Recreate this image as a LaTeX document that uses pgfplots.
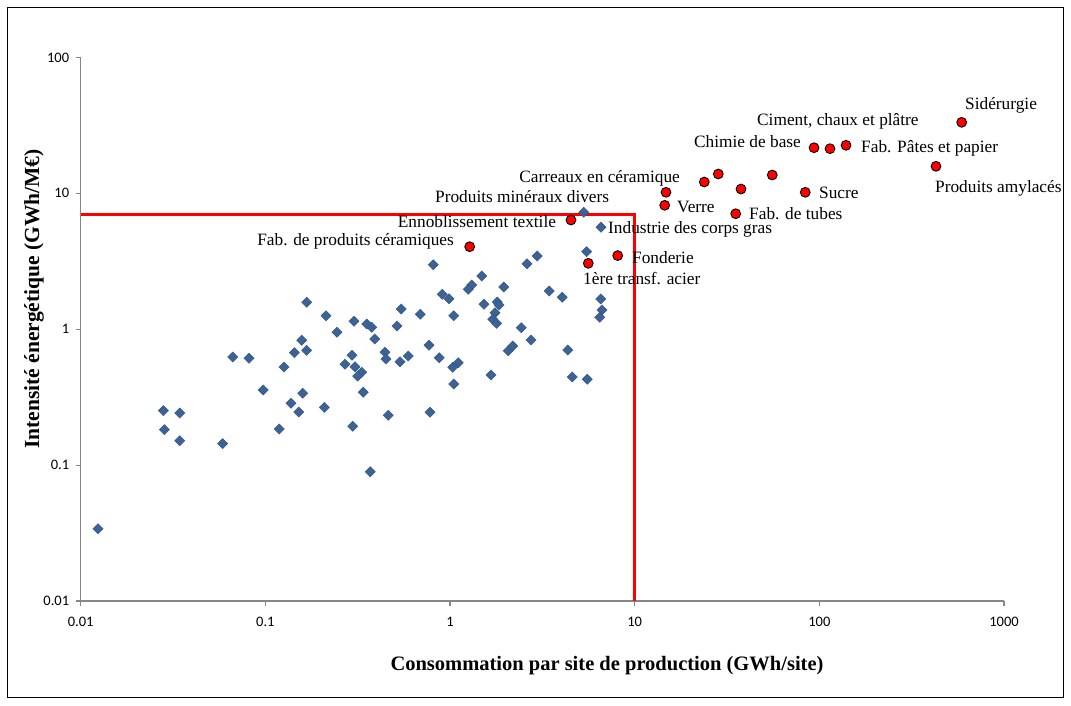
\documentclass[border=0pt]{standalone}
\usepackage{fontspec}
\setmainfont{Liberation Serif}
\newfontfamily\carlito{Carlito}
\usepackage{pgfplots}
\pgfplotsset{compat=1.18}
\definecolor{axisgray}{RGB}{134,134,134}
\definecolor{bluept}{RGB}{60,98,150}
\definecolor{blueedge}{RGB}{50,85,130}
\begin{document}
\begin{tikzpicture}
\fill[white] (0,0) rectangle (1071pt,705pt);
\draw[black, line width=1.3pt] (7.3pt,7.3pt) rectangle (1063.7pt,697.7pt);
\begin{axis}[
  at={(80.7pt,104pt)}, anchor=south west,
  scale only axis, width=923.3pt, height=543.6pt,
  xmode=log, ymode=log,
  xmin=0.01, xmax=1000, ymin=0.01, ymax=100,
  axis x line*=bottom, axis y line*=left,
  axis line style={draw=axisgray, line width=1.5pt, -},
  tick style={draw=axisgray, line width=1.2pt},
  major tick length=5pt,
  tick align=outside,
  minor tick style={draw=none},
  xtick={0.01,0.1,1,10,100,1000},
  xticklabels={0.01,0.1,1,10,100,1000},
  ytick={0.01,0.1,1,10,100},
  yticklabels={0.01,0.1,1,10,100},
  ticklabel style={font=\carlito\fontsize{14.5}{16}\selectfont, text=black},
  xticklabel style={yshift=-8pt},
  yticklabel style={xshift=-3pt},
  clip=false,
]
\addplot[red, line width=3pt, mark=none] coordinates {(0.01,7) (10,7) (10,0.01)};
\addplot[only marks, mark=square*, mark size=3.6pt,
  mark options={rotate=45, fill=bluept, draw=blueedge, line width=0.4pt}] table {
x y
0.1674 1.578
0.2130 1.257
0.302 1.143
0.3538 1.092
0.3765 1.033
0.2443 0.949
0.391 0.847
0.1573 0.829
0.1435 0.672
0.1674 0.6995
0.0666 0.624
0.0815 0.611
0.1262 0.527
0.2945 0.643
0.270 0.552
0.3058 0.530
0.3324 0.482
0.3162 0.452
0.0975 0.357
0.1593 0.3376
0.339 0.3432
0.1377 0.285
0.1515 0.246
0.2086 0.2662
0.02804 0.2514
0.03437 0.2417
0.02838 0.1822
0.03437 0.1512
0.119 0.1843
0.2972 0.193
0.0587 0.1437
0.370 0.0894
0.01241 0.0340
5.295 7.248
6.571 5.62
5.497 3.719
0.812 2.983
2.970 3.457
2.612 3.034
1.484 2.464
1.311 2.115
1.256 1.966
1.953 2.045
0.908 1.806
0.987 1.676
3.449 1.910
4.055 1.717
6.546 1.668
1.528 1.525
1.803 1.585
1.842 1.507
1.752 1.323
6.653 1.384
6.466 1.223
0.5163 1.056
0.545 1.408
0.6905 1.287
1.047 1.257
1.702 1.183
1.789 1.105
2.432 1.026
2.745 0.833
0.7694 0.761
0.4444 0.676
0.450 0.6035
0.5359 0.5768
0.5943 0.635
0.8747 0.617
1.034 0.5243
1.109 0.567
2.068 0.6947
2.185 0.752
4.338 0.703
1.667 0.460
1.047 0.3953
4.594 0.4449
5.538 0.428
0.4632 0.2325
0.779 0.2446
};
\addplot[only marks, mark=*, mark size=4.9pt,
  mark options={fill=red, draw=black, line width=0.9pt}] table {
x y
590 33.3
139.5 22.55
114.2 21.29
93.6 21.65
428.3 15.80
55.6 13.63
28.37 13.87
23.82 12.11
37.65 10.75
83.9 10.17
14.78 10.17
14.54 8.16
35.25 7.077
4.52 6.36
1.278 4.047
5.608 3.054
8.09 3.481
};
\end{axis}
\begin{scope}[shift={(0pt,705pt)}, x=1pt, y=-1pt,
  lab/.style={inner sep=0pt, font=\fontsize{17.3}{20}\selectfont}]
\node[lab, anchor=base west] at (965,109.5) {Sidérurgie};
\node[lab, anchor=base west] at (757,125.5) {Ciment, chaux et plâtre};
\node[lab, anchor=base west] at (694,147.5) {Chimie de base};
\node[lab, anchor=base west] at (861,152.2) {Fab. Pâtes et papier};
\node[lab, anchor=base east] at (680,182.2) {Carreaux en céramique};
\node[lab, anchor=base west] at (435,202.2) {Produits minéraux divers};
\node[lab, anchor=base west] at (677,212.2) {Verre};
\node[lab, anchor=base west] at (819,198.8) {Sucre};
\node[lab, anchor=base west] at (935,192.5) {Produits amylacés};
\node[lab, anchor=base west] at (749,219.8) {Fab. de tubes};
\node[lab, anchor=base west] at (608,233.8) {Industrie des corps gras};
\node[lab, anchor=base west] at (632,263.2) {Fonderie};
\node[lab, anchor=base west] at (583,284.5) {1ère transf. acier};
\node[lab, anchor=base west] at (397.7,227.2) {Ennoblissement textile};
\node[lab, anchor=base east] at (454,245.5) {Fab. de produits céramiques};
\node[font=\bfseries\fontsize{20.5}{24}\selectfont] at (607,666) {Consommation par site de production (GWh/site)};
\node[rotate=90, font=\bfseries\fontsize{21.5}{24}\selectfont] at (34,299) {Intensité énergétique (GWh/M€)};
\end{scope}
\pgfresetboundingbox
\useasboundingbox (0,0) rectangle (1071pt,705pt);
\end{tikzpicture}
\end{document}
